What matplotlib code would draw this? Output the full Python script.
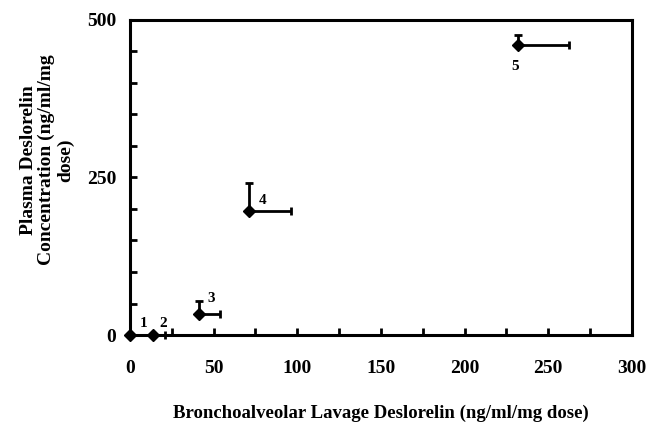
import matplotlib.pyplot as plt
from matplotlib.ticker import MultipleLocator

# BAL vs plasma deslorelin, groups 1-5
groups = ["1", "2", "3", "4", "5"]
bal = [0, 14, 41, 71, 232]
plasma = [0, 0, 33, 197, 460]
bal_err = [0, 7, 13, 25.5, 30.5]
plasma_err = [0, 0, 21, 44, 16]

plt.rcParams['font.family'] = ['Liberation Serif', 'DejaVu Serif']
plt.rcParams['font.weight'] = 'bold'

fig = plt.figure(figsize=(6.5, 4.22), dpi=100)
ax = fig.add_axes([0.2, 0.206, 0.772, 0.747])

ax.errorbar(bal, plasma, xerr=[[0]*5, bal_err], yerr=[[0]*5, plasma_err],
            fmt='D', color='black', markersize=6, elinewidth=2, capsize=3,
            capthick=2, clip_on=False, zorder=3)

# point labels
offsets = [(10, 4), (7, 4), (9, 7), (10, 3), (-2, -20)]
for g, x, y, off in zip(groups, bal, plasma, offsets):
    ax.annotate(g, (x, y), xytext=off, textcoords='offset points',
                fontsize=11, fontweight='bold', ha='center', va='bottom')

ax.set_xlim(0, 300)
ax.set_ylim(0, 500)
ax.xaxis.set_major_locator(MultipleLocator(50))
ax.xaxis.set_minor_locator(MultipleLocator(25))
ax.yaxis.set_major_locator(MultipleLocator(250))
ax.yaxis.set_minor_locator(MultipleLocator(50))
ax.tick_params(which='both', direction='in', width=2, length=5, labelsize=14)
ax.tick_params(axis='x', pad=18)
ax.tick_params(axis='y', pad=10)
for s in ax.spines.values():
    s.set_linewidth(2.2)

ax.set_xlabel("Bronchoalveolar Lavage Deslorelin (ng/ml/mg dose)",
              fontsize=13.5, fontweight='bold', labelpad=20)
ax.set_ylabel("Plasma Deslorelin\nConcentration (ng/ml/mg\ndose)",
              fontsize=14, fontweight='bold', linespacing=1.1)
ax.yaxis.set_label_coords(-0.112, 0.556)

fig.savefig("out.png", dpi=100)
